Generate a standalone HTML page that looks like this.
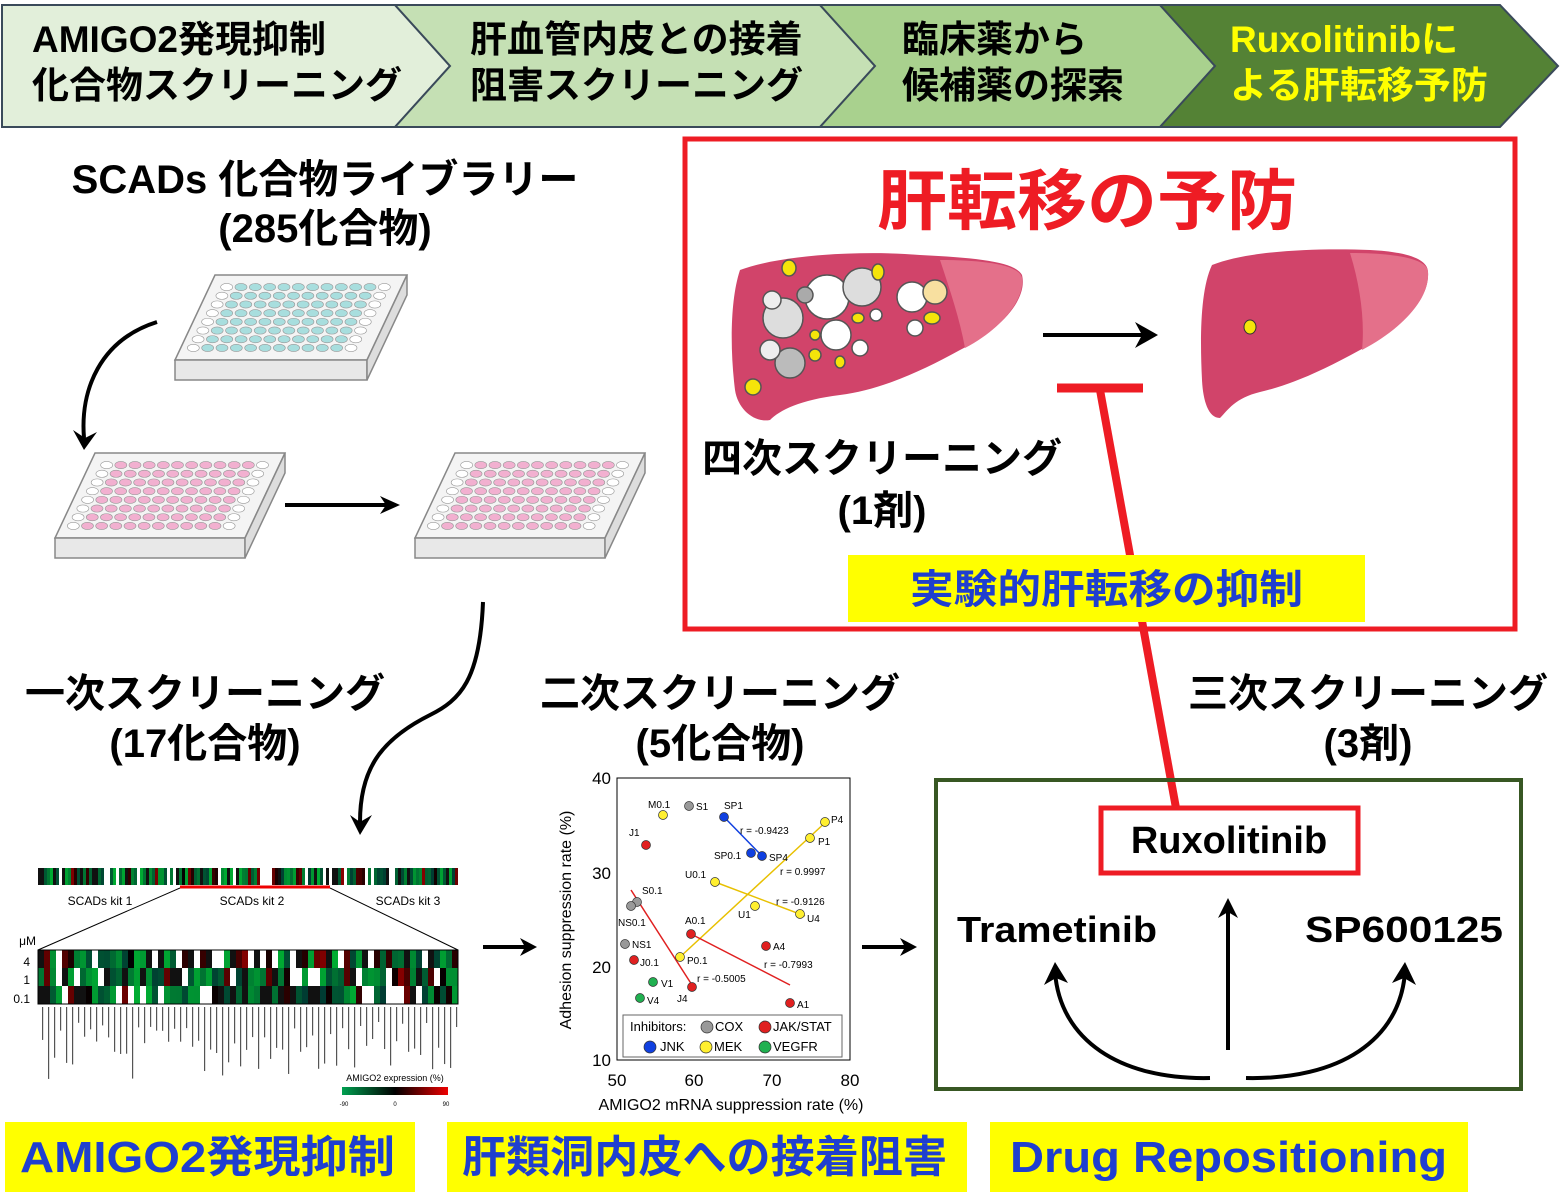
<!DOCTYPE html>
<html><head><meta charset="utf-8">
<style>
html,body{margin:0;padding:0;background:#fff;}
svg{display:block;}
text{font-family:"Liberation Sans","Noto Sans CJK JP",sans-serif;}
</style></head>
<body>
<svg id="s" width="1568" height="1200" viewBox="0 0 1568 1200" xmlns="http://www.w3.org/2000/svg">
<!-- banner -->
<polygon points="2,5 395,5 450,66 395,127 2,127" fill="#e2efda" stroke="#3a4a5a" stroke-width="2"/>
<polygon points="395,5 820,5 875,66 820,127 395,127 450,66" fill="#c5e0b4" stroke="#3a4a5a" stroke-width="2"/>
<polygon points="820,5 1160,5 1215,66 1160,127 820,127 875,66" fill="#a9d18e" stroke="#3a4a5a" stroke-width="2"/>
<polygon points="1160,5 1500,5 1558,66 1500,127 1160,127 1215,66" fill="#548235" stroke="#3a4a5a" stroke-width="2"/>
<g font-size="37" font-weight="bold">
<text x="32" y="52">AMIGO2発現抑制</text>
<text x="32" y="98">化合物スクリーニング</text>
<text x="470" y="52">肝血管内皮との接着</text>
<text x="470" y="98">阻害スクリーニング</text>
<text x="902" y="52">臨床薬から</text>
<text x="902" y="98">候補薬の探索</text>
<text x="1230" y="52" fill="#ffff00">Ruxolitinibに</text>
<text x="1230" y="98" fill="#ffff00">よる肝転移予防</text>
</g>
<text x="325" y="193" text-anchor="middle" font-size="40" font-weight="bold">SCADs 化合物ライブラリー</text>
<text x="325" y="242" text-anchor="middle" font-size="40" font-weight="bold">(285化合物)</text>
<g id="plates"></g>
<g fill="none" stroke="#000" stroke-width="4">
<path d="M157,322 C100,340 80,390 84,438"/>
<path d="M285,505 L390,505"/>
<path d="M483,602 C480,680 460,700 430,715 C380,740 360,770 360,822"/>
<path d="M483,947 L528,947"/>
<path d="M862,947 L908,947"/>
<path d="M1043,335 L1148,335"/>
<path d="M1228,1050 L1228,908"/>
<path d="M1210,1078 C1120,1080 1060,1040 1055,972"/>
<path d="M1246,1078 C1340,1080 1400,1040 1405,972"/>
</g>
<g fill="#000">
<polygon points="73,430 84,450 97,432 85,438"/>
<polygon points="380,496 400,505 380,514 386,505"/>
<polygon points="350,815 360,835 372,815 360,822"/>
<polygon points="520,938 537,947 520,956 525,947"/>
<polygon points="900,938 917,947 900,956 905,947"/>
<polygon points="1135,322 1158,335 1135,348 1142,335"/>
<polygon points="1218,918 1228,898 1238,918 1228,912"/>
<polygon points="1044,985 1055,962 1068,983 1056,978"/>
<polygon points="1392,983 1405,962 1416,985 1404,978"/>
</g>
<rect x="685" y="139" width="830" height="490" fill="none" stroke="#ee1c24" stroke-width="5"/>
<text x="877" y="224" font-size="66" font-weight="bold" fill="#ee1c24" textLength="420" lengthAdjust="spacingAndGlyphs">肝転移の予防</text>
<path d="M740,270 C780,255 860,250 920,255 C980,258 1015,262 1022,275 C1028,300 1000,330 960,350 C920,372 880,390 840,395 C800,400 780,410 770,420 C755,423 738,410 735,390 C730,350 730,300 740,270 Z" fill="#d1446a"/>
<path d="M940,260 C985,260 1020,265 1022,278 C1025,300 1000,330 965,348 C960,320 950,290 940,260Z" fill="#e4708a"/>
<path d="M1212,265 C1250,250 1320,248 1370,250 C1410,252 1428,260 1428,272 C1430,300 1400,330 1360,350 C1320,372 1290,385 1260,392 C1235,398 1228,410 1220,418 C1208,418 1203,400 1202,380 C1200,340 1200,290 1212,265 Z" fill="#d1446a"/>
<path d="M1350,253 C1400,253 1428,260 1428,272 C1430,300 1400,330 1362,350 C1365,320 1360,285 1350,253Z" fill="#e4708a"/>
<ellipse cx="1250" cy="327" rx="6" ry="7" fill="#f5e40a" stroke="#333" stroke-width="1"/>
<g stroke="#555" stroke-width="1.5">
<circle cx="827" cy="297" r="22" fill="#fff"/>
<circle cx="862" cy="287" r="19" fill="#ddd"/>
<circle cx="783" cy="318" r="20" fill="#ddd"/>
<circle cx="836" cy="335" r="15" fill="#fff"/>
<circle cx="912" cy="297" r="15" fill="#fff"/>
<circle cx="935" cy="292" r="12" fill="#f8e0a0"/>
<circle cx="790" cy="363" r="15" fill="#bbb"/>
<circle cx="805" cy="295" r="8" fill="#aaa"/>
<circle cx="772" cy="300" r="9" fill="#eee"/>
<circle cx="770" cy="350" r="10" fill="#eee"/>
<circle cx="860" cy="348" r="8" fill="#fff"/>
<circle cx="915" cy="328" r="8" fill="#fff"/>
<circle cx="876" cy="315" r="6" fill="#fff"/>
<g fill="#f5e40a"><ellipse cx="789" cy="268" rx="7" ry="8"/><ellipse cx="878" cy="272" rx="6" ry="8"/><ellipse cx="932" cy="318" rx="8" ry="6"/><ellipse cx="858" cy="318" rx="6" ry="5"/><ellipse cx="815" cy="355" rx="6" ry="6"/><ellipse cx="753" cy="387" rx="8" ry="8"/><ellipse cx="840" cy="362" rx="5" ry="6"/><ellipse cx="815" cy="335" rx="5" ry="5"/></g>
</g>
<line x1="1057" y1="388" x2="1143" y2="388" stroke="#ee1c24" stroke-width="9"/>
<line x1="1100" y1="390" x2="1176" y2="808" stroke="#ee1c24" stroke-width="8"/>
<text x="882" y="472" text-anchor="middle" font-size="40" font-weight="bold">四次スクリーニング</text>
<text x="882" y="524" text-anchor="middle" font-size="40" font-weight="bold">(1剤)</text>
<rect x="848" y="555" width="517" height="67" fill="#ffff00"/>
<text x="910" y="603" font-size="40" font-weight="bold" fill="#1f3fcf" textLength="393" lengthAdjust="spacingAndGlyphs">実験的肝転移の抑制</text>
<g font-size="40" font-weight="bold" text-anchor="middle">
<text x="205" y="707">一次スクリーニング</text>
<text x="205" y="757">(17化合物)</text>
<text x="720" y="707">二次スクリーニング</text>
<text x="720" y="757">(5化合物)</text>
<text x="1368" y="707">三次スクリーニング</text>
<text x="1368" y="757">(3剤)</text>
</g>
<g id="heat"></g>
<line x1="180" y1="887" x2="330" y2="887" stroke="#e00" stroke-width="3"/>
<line x1="180" y1="888" x2="38" y2="950" stroke="#000" stroke-width="1"/>
<line x1="330" y1="888" x2="458" y2="950" stroke="#000" stroke-width="1"/>
<g font-size="12" text-anchor="middle"><text x="100" y="905">SCADs kit 1</text><text x="252" y="905">SCADs kit 2</text><text x="408" y="905">SCADs kit 3</text></g>
<g font-size="12" text-anchor="end"><text x="36" y="945">μM</text><text x="30" y="966">4</text><text x="30" y="984">1</text><text x="30" y="1003">0.1</text></g>
<text x="395" y="1081" font-size="9" text-anchor="middle">AMIGO2 expression (%)</text>
<defs><linearGradient id="cb"><stop offset="0" stop-color="#00a050"/><stop offset="0.5" stop-color="#000"/><stop offset="1" stop-color="#e00"/></linearGradient></defs>
<rect x="342" y="1087" width="106" height="8" fill="url(#cb)"/>
<g font-size="6" text-anchor="middle"><text x="344" y="1106">-90</text><text x="395" y="1106">0</text><text x="446" y="1106">90</text></g>
<rect x="617" y="778" width="233" height="282" fill="#fff" stroke="#000" stroke-width="1"/>
<g font-size="17" text-anchor="middle">
<text x="617" y="1086">50</text><text x="694" y="1086">60</text><text x="772" y="1086">70</text><text x="850" y="1086">80</text>
<text x="731" y="1110" font-size="16">AMIGO2 mRNA suppression rate (%)</text>
</g>
<g font-size="17" text-anchor="end"><text x="611" y="784">40</text><text x="611" y="879">30</text><text x="611" y="973">20</text><text x="611" y="1066">10</text></g>
<text transform="translate(571,920) rotate(-90)" font-size="16" text-anchor="middle">Adhesion suppression rate (%)</text>
<g stroke-width="1.5">
<line x1="724" y1="817" x2="762" y2="856" stroke="#1040e0"/>
<line x1="680" y1="957" x2="828" y2="820" stroke="#e8c000"/>
<line x1="715" y1="882" x2="805" y2="916" stroke="#e8c000"/>
<line x1="631" y1="890" x2="692" y2="985" stroke="#e02020"/>
<line x1="691" y1="934" x2="790" y2="985" stroke="#e02020"/>
</g>
<g stroke="#333" stroke-width="0.7">
<circle cx="663" cy="815" r="4.5" fill="#ffef30"/><circle cx="689" cy="806" r="4.5" fill="#999"/><circle cx="724" cy="817" r="4.5" fill="#1040e0"/>
<circle cx="646" cy="845" r="4.5" fill="#e02020"/><circle cx="825" cy="822" r="4.5" fill="#ffef30"/><circle cx="810" cy="838" r="4.5" fill="#ffef30"/>
<circle cx="751" cy="853" r="4.5" fill="#1040e0"/><circle cx="762" cy="856" r="4.5" fill="#1040e0"/><circle cx="715" cy="882" r="4.5" fill="#ffef30"/>
<circle cx="637" cy="902" r="4.5" fill="#999"/><circle cx="631" cy="906" r="4.5" fill="#999"/><circle cx="755" cy="906" r="4.5" fill="#ffef30"/>
<circle cx="800" cy="914" r="4.5" fill="#ffef30"/><circle cx="691" cy="934" r="4.5" fill="#e02020"/><circle cx="625" cy="944" r="4.5" fill="#999"/>
<circle cx="766" cy="946" r="4.5" fill="#e02020"/><circle cx="634" cy="960" r="4.5" fill="#e02020"/><circle cx="680" cy="957" r="4.5" fill="#ffef30"/>
<circle cx="653" cy="982" r="4.5" fill="#20b050"/><circle cx="692" cy="987" r="4.5" fill="#e02020"/><circle cx="640" cy="998" r="4.5" fill="#20b050"/>
<circle cx="790" cy="1003" r="4.5" fill="#e02020"/>
</g>
<g font-size="10">
<text x="648" y="808">M0.1</text><text x="696" y="810">S1</text><text x="724" y="809">SP1</text><text x="629" y="836">J1</text>
<text x="831" y="823">P4</text><text x="818" y="845">P1</text><text x="714" y="859">SP0.1</text><text x="769" y="861">SP4</text>
<text x="740" y="834">r = -0.9423</text><text x="780" y="875">r = 0.9997</text><text x="685" y="878">U0.1</text>
<text x="642" y="894">S0.1</text><text x="618" y="926">NS0.1</text><text x="738" y="918">U1</text><text x="807" y="922">U4</text>
<text x="776" y="905">r = -0.9126</text><text x="685" y="924">A0.1</text><text x="632" y="948">NS1</text><text x="773" y="950">A4</text>
<text x="640" y="966">J0.1</text><text x="687" y="964">P0.1</text><text x="764" y="968">r = -0.7993</text><text x="661" y="987">V1</text>
<text x="697" y="982">r = -0.5005</text><text x="677" y="1002">J4</text><text x="647" y="1004">V4</text><text x="797" y="1008">A1</text>
</g>
<rect x="623" y="1015" width="219" height="42" fill="#fff" stroke="#666" stroke-width="1"/>
<g font-size="13">
<text x="630" y="1031">Inhibitors:</text>
<circle cx="707" cy="1027" r="6" fill="#999" stroke="#333" stroke-width="0.7"/><text x="715" y="1031">COX</text>
<circle cx="765" cy="1027" r="6" fill="#e02020" stroke="#333" stroke-width="0.7"/><text x="773" y="1031">JAK/STAT</text>
<circle cx="650" cy="1047" r="6" fill="#1040e0" stroke="#333" stroke-width="0.7"/><text x="660" y="1051">JNK</text>
<circle cx="706" cy="1047" r="6" fill="#ffef30" stroke="#333" stroke-width="0.7"/><text x="714" y="1051">MEK</text>
<circle cx="765" cy="1047" r="6" fill="#20b050" stroke="#333" stroke-width="0.7"/><text x="773" y="1051">VEGFR</text>
</g>
<rect x="936" y="780" width="585" height="309" fill="none" stroke="#385723" stroke-width="4"/>
<rect x="1101" y="808" width="257" height="65" fill="#fff" stroke="#ee1c24" stroke-width="5"/>
<text x="1229" y="853" text-anchor="middle" font-size="38" font-weight="bold">Ruxolitinib</text>
<text x="957" y="942" font-size="36" font-weight="bold" textLength="200" lengthAdjust="spacingAndGlyphs">Trametinib</text>
<text x="1305" y="942" font-size="36" font-weight="bold" textLength="198" lengthAdjust="spacingAndGlyphs">SP600125</text>
<rect x="5" y="1122" width="410" height="70" fill="#ffff00"/>
<rect x="447" y="1122" width="520" height="70" fill="#ffff00"/>
<rect x="990" y="1122" width="478" height="70" fill="#ffff00"/>
<g font-size="44" font-weight="bold" fill="#1f3fcf">
<text x="20" y="1172" textLength="375" lengthAdjust="spacingAndGlyphs">AMIGO2発現抑制</text>
<text x="462" y="1172" textLength="485" lengthAdjust="spacingAndGlyphs">肝類洞内皮への接着阻害</text>
<text x="1010" y="1172" textLength="437" lengthAdjust="spacingAndGlyphs">Drug Repositioning</text>
</g>
</svg>
<script>
(function(){
var NS="http://www.w3.org/2000/svg";
function el(p,t,a){var e=document.createElementNS(NS,t);for(var k in a)e.setAttribute(k,a[k]);p.appendChild(e);return e;}
var pl=document.getElementById('plates');
function plate(x,y,w,h,col){
 var g=el(pl,'g',{});
 var sk=40;
 el(g,'polygon',{points:(x+sk)+','+y+' '+(x+w)+','+y+' '+(x+w-sk)+','+(y+h-20)+' '+x+','+(y+h-20),fill:'#f4f4f4',stroke:'#888','stroke-width':1.5});
 el(g,'polygon',{points:x+','+(y+h-20)+' '+(x+w-sk)+','+(y+h-20)+' '+(x+w-sk)+','+(y+h)+' '+x+','+(y+h),fill:'#e8e8e8',stroke:'#888','stroke-width':1.5});
 el(g,'polygon',{points:(x+w-sk)+','+(y+h-20)+' '+(x+w)+','+y+' '+(x+w)+','+(y+20)+' '+(x+w-sk)+','+(y+h),fill:'#ddd',stroke:'#888','stroke-width':1.5});
 var rows=8,cols=12;
 for(var r=0;r<rows;r++)for(var c=0;c<cols;c++){
  var t=(r+0.7)/(rows+0.4);var yy=y+6+t*(h-32);var xx=x+sk*(1-t)+10+c*((w-sk-20)/cols)+5;
  el(g,'ellipse',{cx:xx,cy:yy,rx:6,ry:3.6,fill:(c==0||c==11)?'#fff':col,stroke:'#999','stroke-width':0.6});
 }
}
plate(175,275,232,105,'#a8dede');
plate(55,453,230,105,'#f2b0d0');
plate(415,453,230,105,'#f2b0d0');
var h=document.getElementById('heat');
var seed=7;function rnd(){seed=(seed*9301+49297)%233280;return seed/233280;}
function col(v){if(v>0.8)return '#fff';if(v<0.45){var k=Math.floor(60+v*250);return 'rgb(0,'+k+',50)';}if(v<0.6)return '#111';var k2=Math.floor((v-0.6)*700);return 'rgb('+Math.min(200,k2)+',0,0)';}
for(var i=0;i<140;i++){el(h,'rect',{x:38+i*3,y:868,width:3,height:17,fill:col(rnd())});}
for(var r=0;r<3;r++)for(var i=0;i<70;i++){el(h,'rect',{x:38+i*6,y:950+r*18,width:6,height:18,fill:col(rnd())});}
el(h,'rect',{x:38,y:950,width:420,height:54,fill:'none',stroke:'#000','stroke-width':1});
for(var i=0;i<70;i++){var l=15+rnd()*60;el(h,'rect',{x:42+i*6,y:1007,width:1.2,height:l,fill:'#555'});}
})();
</script>
</body></html>
